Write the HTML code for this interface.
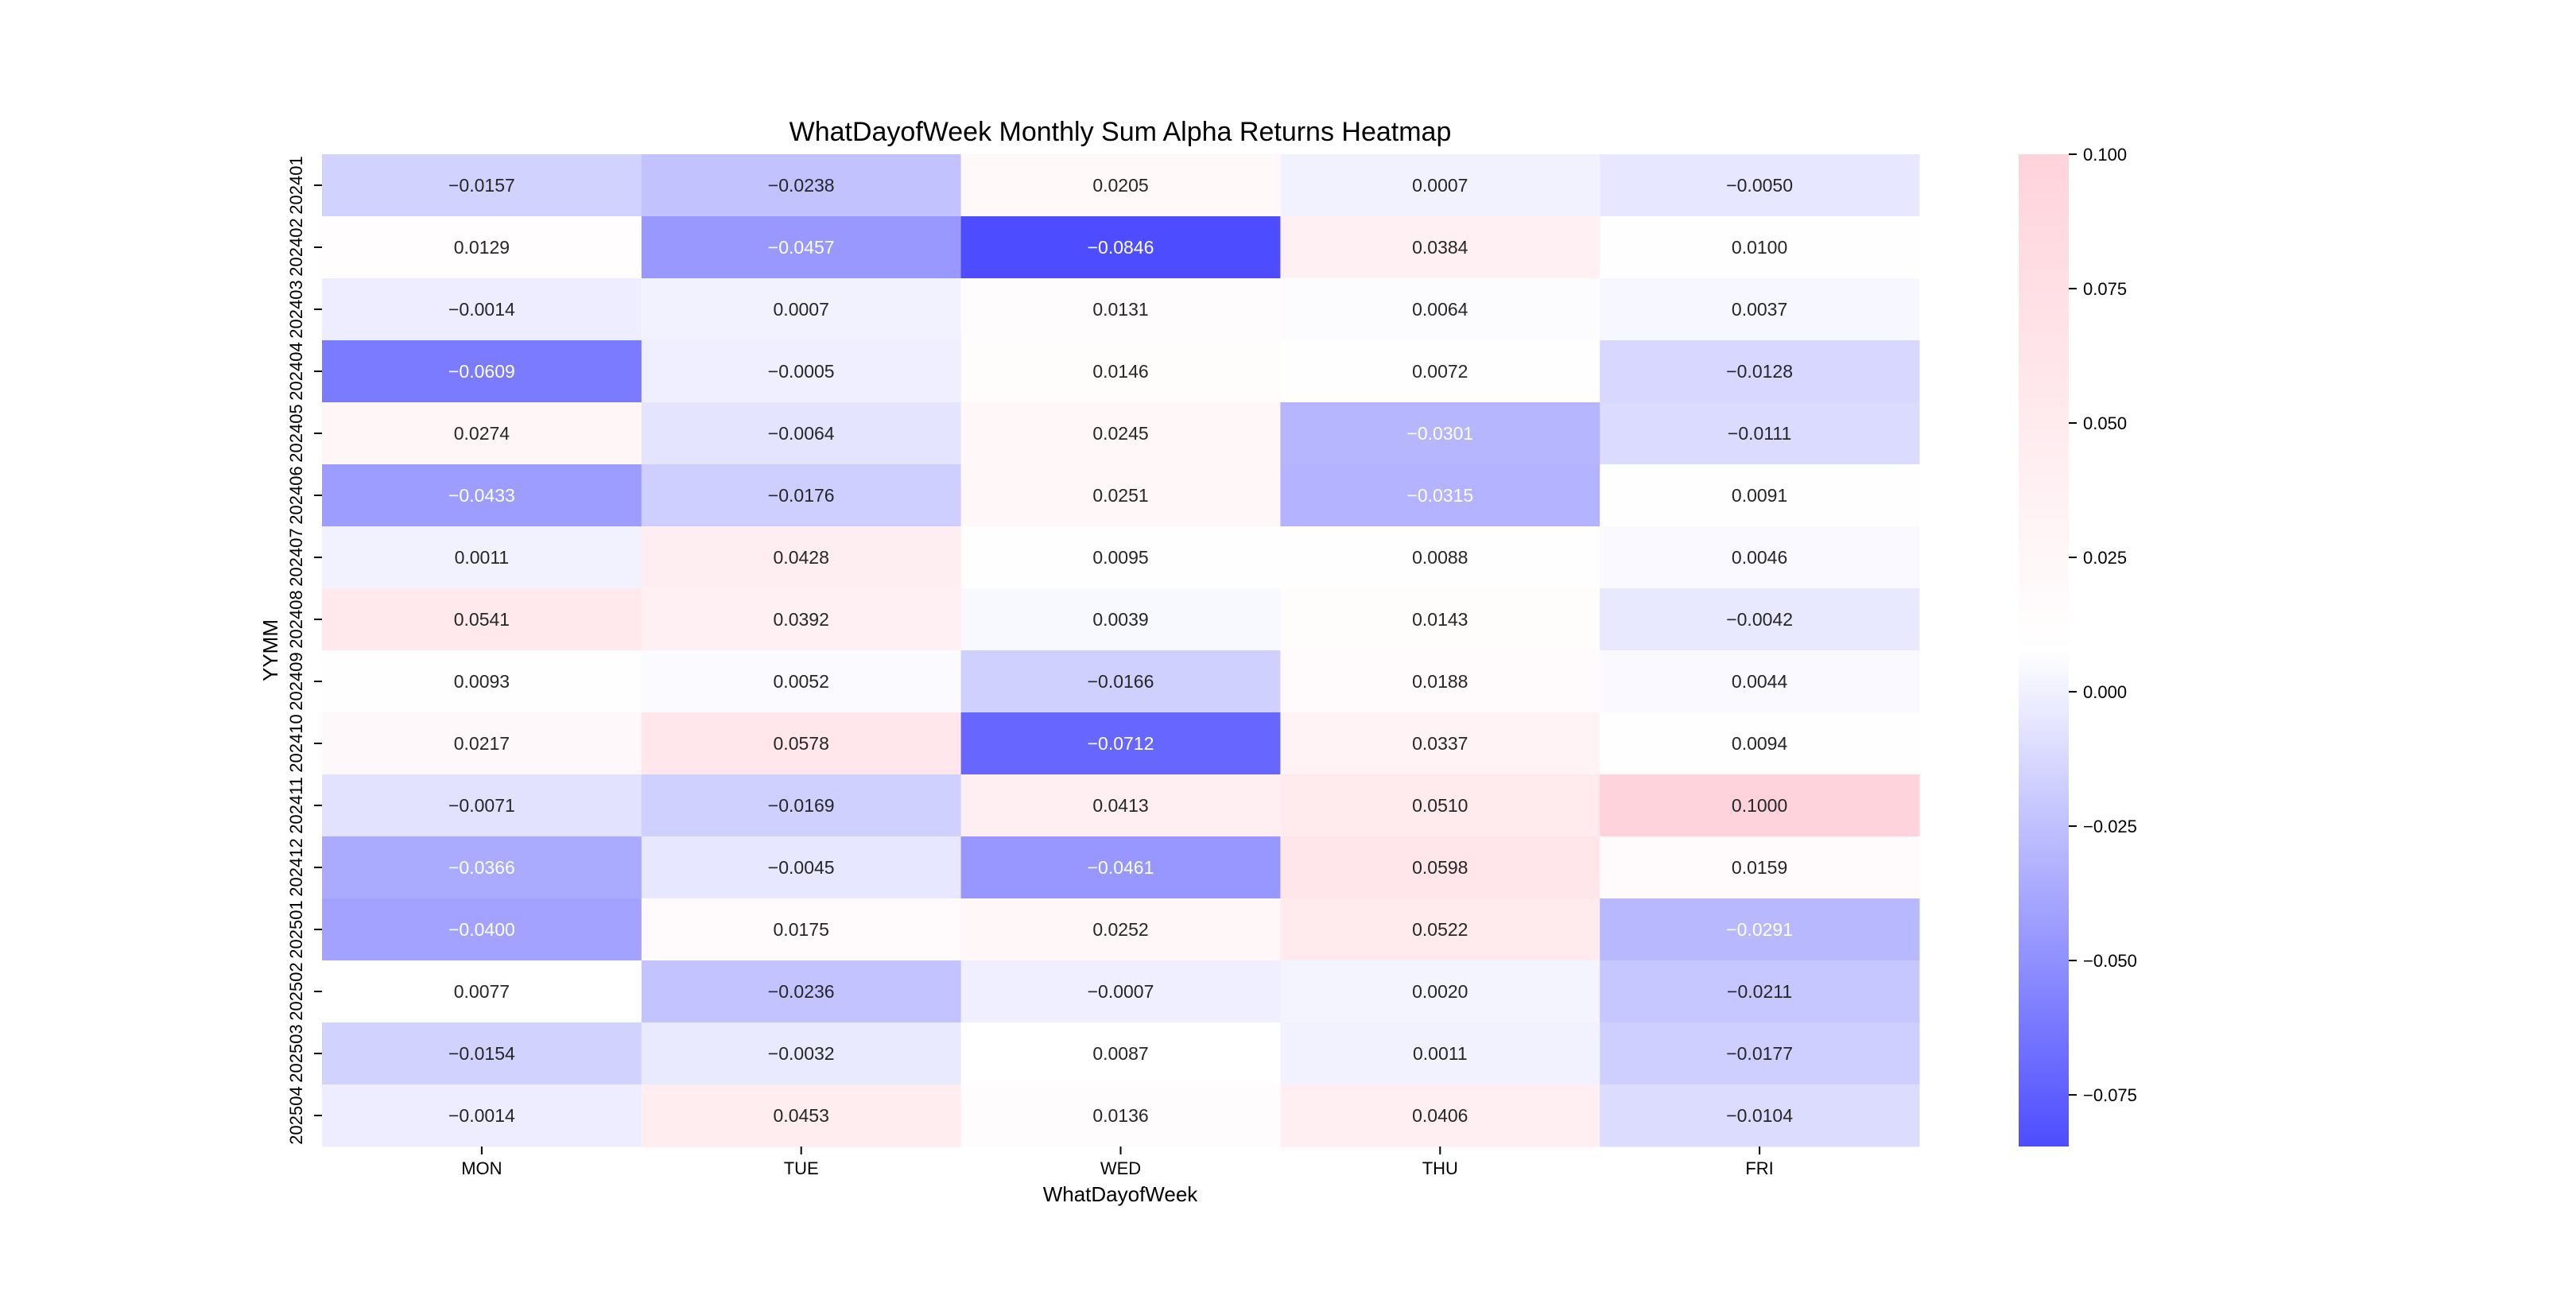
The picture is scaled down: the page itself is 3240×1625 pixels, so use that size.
<!DOCTYPE html>
<html><head><meta charset="utf-8"><style>
html,body{margin:0;padding:0;background:#fff;}
svg text{font-family:"WenQuanYi Zen Hei","Liberation Sans",sans-serif;}
</style></head><body>
<svg id="chart" width="3240" height="1620" viewBox="0 0 3240 1620" xmlns="http://www.w3.org/2000/svg">
<rect width="3240" height="1620" fill="#fff"/>
<text x="1409" y="177" font-size="34" text-anchor="middle" fill="#000">WhatDayofWeek Monthly Sum Alpha Returns Heatmap</text>
<g id="cells"></g>
<g id="xaxis"></g>
<g id="yaxis"></g>
<text x="1409" y="1511" font-size="26" text-anchor="middle" fill="#000">WhatDayofWeek</text>
<text x="0" y="0" font-size="26" text-anchor="middle" fill="#000" transform="translate(349,818) rotate(-90)">YYMM</text>
<defs><linearGradient id="cbgrad" x1="0" y1="1" x2="0" y2="0"><stop offset="0" stop-color="rgb(77,77,255)"/><stop offset="0.5" stop-color="#fff"/><stop offset="1" stop-color="rgb(255,211,219)"/></linearGradient></defs>
<g id="colorbar"></g>
</svg>
<script>
const days = ["MON","TUE","WED","THU","FRI"];
const months = ["202401","202402","202403","202404","202405","202406","202407","202408","202409","202410","202411","202412","202501","202502","202503","202504"];
const monVals = [-0.0157,0.0129,-0.0014,-0.0609,0.0274,-0.0433,0.0011,0.0541,0.0093,0.0217,-0.0071,-0.0366,-0.0400,0.0077,-0.0154,-0.0014];
const tueVals = [-0.0238,-0.0457,0.0007,-0.0005,-0.0064,-0.0176,0.0428,0.0392,0.0052,0.0578,-0.0169,-0.0045,0.0175,-0.0236,-0.0032,0.0453];
const wedVals = [0.0205,-0.0846,0.0131,0.0146,0.0245,0.0251,0.0095,0.0039,-0.0166,-0.0712,0.0413,-0.0461,0.0252,-0.0007,0.0087,0.0136];
const thuVals = [0.0007,0.0384,0.0064,0.0072,-0.0301,-0.0315,0.0088,0.0143,0.0188,0.0337,0.0510,0.0598,0.0522,0.0020,0.0011,0.0406];
const friVals = [-0.0050,0.0100,0.0037,-0.0128,-0.0111,0.0091,0.0046,-0.0042,0.0044,0.0094,0.1000,0.0159,-0.0291,-0.0211,-0.0177,-0.0104];
const cbTicks = [0.100,0.075,0.050,0.025,0.000,-0.025,-0.050,-0.075];
const series = [monVals,tueVals,wedVals,thuVals,friVals];

const NS="http://www.w3.org/2000/svg";
const L=405,R=2414,T=194,B=1442;
const colW=(R-L)/days.length, rowH=(B-T)/months.length;
let vmin=Infinity,vmax=-Infinity;
series.forEach(s=>s.forEach(v=>{vmin=Math.min(vmin,v);vmax=Math.max(vmax,v);}));
function xPos(i){return L+colW*i;}
function yPos(j){return T+rowH*j;}
function cbY(v){return B-(v-vmin)/(vmax-vmin)*(B-T);}
function color(v){
  const t=(v-vmin)/(vmax-vmin);
  const lo=[77,77,255],mid=[255,255,255],hi=[255,211,219];
  let a,b,f;
  if(t<0.5){a=lo;b=mid;f=t/0.5;}else{a=mid;b=hi;f=(t-0.5)/0.5;}
  return "rgb("+a.map((c,k)=>Math.round(c+(b[k]-c)*f)).join(",")+")";
}
function mk(tag,attrs,parent){const e=document.createElementNS(NS,tag);for(const k in attrs)e.setAttribute(k,attrs[k]);parent.appendChild(e);return e;}
const cells=document.getElementById("cells");
series.forEach((s,i)=>{
  s.forEach((v,j)=>{
    const r=mk("rect",{x:xPos(i),y:yPos(j),width:colW+0.5,height:rowH+0.5,fill:color(v)},cells);
    
    
    const t=mk("text",{x:xPos(i)+colW/2,y:yPos(j)+rowH/2+8,"font-size":23,"text-anchor":"middle",fill:(v< -0.027?"#fff":"#262626")},cells);
    
    
    t.textContent=(v<0?"−":"")+Math.abs(v).toFixed(4);
  });
});
const xa=document.getElementById("xaxis");
days.forEach((d,i)=>{
  const cx=xPos(i)+colW/2;
  const tk=mk("line",{x1:cx,y1:B,x2:cx,y2:B+10,stroke:"#000","stroke-width":2},xa);
  
  
  const t=mk("text",{x:cx,y:1477,"font-size":22,"text-anchor":"middle",fill:"#000"},xa);
  
  
  t.textContent=d;
});
const ya=document.getElementById("yaxis");
months.forEach((m,j)=>{
  const cy=yPos(j)+rowH/2;
  const tk=mk("line",{x1:L-10,y1:cy,x2:L,y2:cy,stroke:"#000","stroke-width":2},ya);
  
  
  const t=mk("text",{x:0,y:0,"font-size":22,"text-anchor":"middle",fill:"#000",transform:"translate(380,"+cy+") rotate(-90)"},ya);
  
  
  t.textContent=m;
});
const cb=document.getElementById("colorbar");
const cbr=mk("rect",{x:2539,y:T,width:63,height:B-T,fill:"url(#cbgrad)"},cb);


cbTicks.forEach(v=>{
  const y=cbY(v);
  const tk=mk("line",{x1:2602,y1:y,x2:2612,y2:y,stroke:"#000","stroke-width":2},cb);
  
  
  const t=mk("text",{x:2620,y:y+8,"font-size":22,fill:"#000"},cb);
  
  
  t.textContent=(v<0?"−":"")+Math.abs(v).toFixed(3);
});
</script>
</body></html>
